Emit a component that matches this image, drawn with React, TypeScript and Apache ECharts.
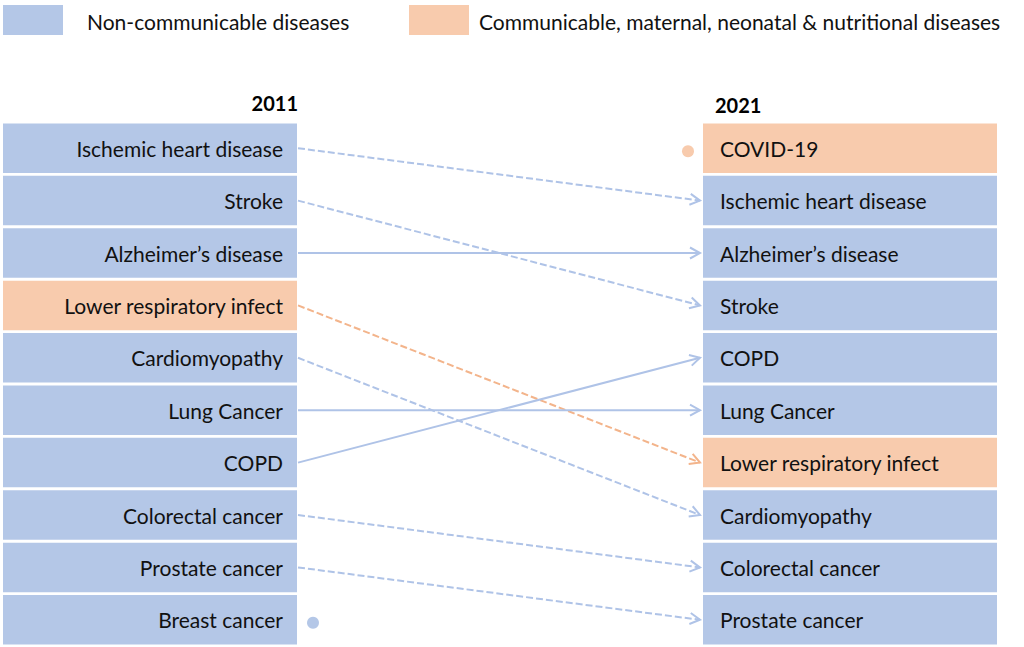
import React, { useEffect, useRef } from "react";
import * as echarts from "echarts";

const years = ["2011", "2021"];
const ranking2011 = [
  "Ischemic heart disease",
  "Stroke",
  "Alzheimer’s disease",
  "Lower respiratory infect",
  "Cardiomyopathy",
  "Lung Cancer",
  "COPD",
  "Colorectal cancer",
  "Prostate cancer",
  "Breast cancer",
];
const ranking2021 = [
  "COVID-19",
  "Ischemic heart disease",
  "Alzheimer’s disease",
  "Stroke",
  "COPD",
  "Lung Cancer",
  "Lower respiratory infect",
  "Cardiomyopathy",
  "Colorectal cancer",
  "Prostate cancer",
];
const communicable = ["COVID-19", "Lower respiratory infect"];
const legendLabels = [
  "Non-communicable diseases",
  "Communicable, maternal, neonatal & nutritional diseases",
];

const BLUE = "#B4C7E7";
const ORANGE = "#F8CBAD";
const LINE_BLUE = "#AFC3E7";
const LINE_ORANGE = "#F3B48B";
const FONT = "Lato, 'Noto Sans', sans-serif";

// layout (pixel coordinates on the x axis)
const LEFT_X0 = 3;
const LEFT_X1 = 297;
const RIGHT_X0 = 703;
const RIGHT_X1 = 997;
const HALF = 0.472;

export default function App() {
  const ref = useRef<HTMLDivElement>(null);

  useEffect(() => {
    if (!ref.current) return;
    const chart = echarts.init(ref.current, undefined, { renderer: "svg" });

    type Box = { side: number; rank: number; name: string; comm: boolean };
    const boxes: Box[] = [];
    ranking2011.forEach((n, i) =>
      boxes.push({ side: 0, rank: i + 1, name: n, comm: communicable.includes(n) })
    );
    ranking2021.forEach((n, i) =>
      boxes.push({ side: 1, rank: i + 1, name: n, comm: communicable.includes(n) })
    );

    type Link = { r1: number; r2: number; comm: boolean };
    const links: Link[] = [];
    ranking2011.forEach((n, i) => {
      const j = ranking2021.indexOf(n);
      if (j >= 0) links.push({ r1: i + 1, r2: j + 1, comm: communicable.includes(n) });
    });

    const dots: { side: number; rank: number; comm: boolean }[] = [];
    ranking2011.forEach((n, i) => {
      if (!ranking2021.includes(n)) dots.push({ side: 0, rank: i + 1, comm: communicable.includes(n) });
    });
    ranking2021.forEach((n, i) => {
      if (!ranking2011.includes(n)) dots.push({ side: 1, rank: i + 1, comm: communicable.includes(n) });
    });

    const option: any = {
      animation: false,
      grid: { left: 0, right: 0, top: 122, bottom: 1 },
      xAxis: { type: "value", min: 0, max: 1024, show: false },
      yAxis: { type: "value", min: 0.5, max: 10.5, inverse: true, show: false },
      graphic: [
        { type: "rect", shape: { x: 3, y: 5, width: 60, height: 30 }, style: { fill: BLUE } },
        {
          type: "text",
          x: 87,
          y: 21,
          style: { text: legendLabels[0], fill: "#111", fontSize: 21, fontFamily: FONT, verticalAlign: "middle", textVerticalAlign: "middle" },
        },
        { type: "rect", shape: { x: 409, y: 5, width: 60, height: 30 }, style: { fill: ORANGE } },
        {
          type: "text",
          x: 479,
          y: 21,
          style: { text: legendLabels[1], fill: "#111", fontSize: 21, fontFamily: FONT, verticalAlign: "middle", textVerticalAlign: "middle" },
        },
        {
          type: "text",
          x: 298,
          y: 103,
          style: { text: years[0], fill: "#000", fontSize: 20, fontWeight: "bold", fontFamily: FONT, align: "right", textAlign: "right", verticalAlign: "middle", textVerticalAlign: "middle" },
        },
        {
          type: "text",
          x: 715,
          y: 105,
          style: { text: years[1], fill: "#000", fontSize: 20, fontWeight: "bold", fontFamily: FONT, align: "left", textAlign: "left", verticalAlign: "middle", textVerticalAlign: "middle" },
        },
      ],
      series: [
        {
          type: "custom",
          name: "boxes",
          data: boxes.map((b) => [b.side, b.rank]),
          renderItem: (params: any, api: any) => {
            const b = boxes[params.dataIndex];
            const x0 = b.side === 0 ? LEFT_X0 : RIGHT_X0;
            const x1 = b.side === 0 ? LEFT_X1 : RIGHT_X1;
            const p0 = api.coord([x0, b.rank - HALF]);
            const p1 = api.coord([x1, b.rank + HALF]);
            const cy = (p0[1] + p1[1]) / 2;
            const tx = b.side === 0 ? api.coord([283, b.rank])[0] : api.coord([720, b.rank])[0];
            return {
              type: "group",
              children: [
                {
                  type: "rect",
                  shape: { x: p0[0], y: p0[1], width: p1[0] - p0[0], height: p1[1] - p0[1] },
                  style: { fill: b.comm ? ORANGE : BLUE },
                },
                {
                  type: "text",
                  x: tx,
                  y: cy,
                  style: {
                    text: b.name,
                    fill: "#111",
                    fontSize: 21,
                    fontFamily: FONT,
                    align: b.side === 0 ? "right" : "left",
                    textAlign: b.side === 0 ? "right" : "left",
                    verticalAlign: "middle",
                    textVerticalAlign: "middle",
                  },
                },
              ],
            };
          },
        },
        {
          type: "custom",
          name: "links",
          data: links.map((l) => [l.r1, l.r2]),
          renderItem: (params: any, api: any) => {
            const l = links[params.dataIndex];
            const s = api.coord([LEFT_X1 + 1, l.r1]);
            const e = api.coord([RIGHT_X0 - 3, l.r2]);
            const dx = e[0] - s[0];
            const dy = e[1] - s[1];
            const len = Math.sqrt(dx * dx + dy * dy);
            const ux = dx / len;
            const uy = dy / len;
            const nx = -uy;
            const ny = ux;
            const AL = 10;
            const AW = 5.5;
            const dashed = l.r2 > l.r1;
            const color = l.comm ? LINE_ORANGE : LINE_BLUE;
            return {
              type: "group",
              children: [
                {
                  type: "line",
                  shape: { x1: s[0], y1: s[1], x2: e[0], y2: e[1] },
                  style: { stroke: color, lineWidth: 2, lineDash: dashed ? [7, 3] : null },
                },
                {
                  type: "polyline",
                  shape: {
                    points: [
                      [e[0] - AL * ux + AW * nx, e[1] - AL * uy + AW * ny],
                      [e[0], e[1]],
                      [e[0] - AL * ux - AW * nx, e[1] - AL * uy - AW * ny],
                    ],
                  },
                  style: { stroke: color, lineWidth: 2, fill: null },
                },
              ],
            };
          },
        },
        {
          type: "custom",
          name: "dots",
          data: dots.map((d) => [d.side, d.rank]),
          renderItem: (params: any, api: any) => {
            const d = dots[params.dataIndex];
            const p = api.coord([d.side === 0 ? 313 : 688, d.rank]);
            return {
              type: "circle",
              shape: { cx: p[0], cy: p[1] + 3, r: 6 },
              style: { fill: d.comm ? ORANGE : BLUE },
            };
          },
        },
      ],
    };

    chart.setOption(option);
    return () => chart.dispose();
  }, []);

  return (
    <div
      ref={ref}
      style={{ position: "fixed", left: 0, top: 0, width: 1024, height: 647, background: "#fff" }}
    />
  );
}
